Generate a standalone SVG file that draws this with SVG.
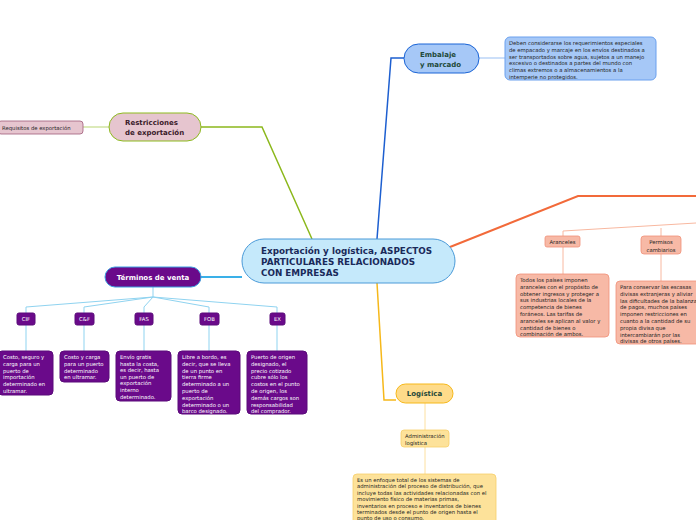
<svg xmlns="http://www.w3.org/2000/svg" width="696" height="520" viewBox="0 0 696 520">
<style>
text{font-family:"DejaVu Sans","Verdana",sans-serif}
.sm{font-size:5.3px;fill:#222}
.wt{font-size:5.3px;fill:#fff}
.b{font-weight:bold}
.c{fill:none}
</style>
<rect width="696" height="520" fill="#fff"/>
<g id="connectors" fill="none">
  <polyline points="377,239 391,58 404,58" stroke="#1d5fd0" stroke-width="1.5"/>
  <line x1="479" y1="58" x2="505" y2="58" stroke="#a9c9f5" stroke-width="1.2"/>
  <polyline points="312,239 262,127 201,127" stroke="#8cb81c" stroke-width="1.5"/>
  <line x1="83" y1="127" x2="109" y2="127" stroke="#c5dc8a" stroke-width="1.2"/>
  <line x1="242" y1="277" x2="201" y2="277" stroke="#3ab0e8" stroke-width="2"/>
  <g stroke="#8fd3f0" stroke-width="1">
    <line x1="153" y1="287" x2="153" y2="297"/>
    <polyline points="153,297 26,307 26,313"/>
    <polyline points="153,297 84,307 84,313"/>
    <polyline points="153,297 144,307 144,313"/>
    <polyline points="153,297 209,307 209,313"/>
    <polyline points="153,297 277,307 277,313"/>
    <line x1="26" y1="325" x2="26" y2="351"/>
    <line x1="84" y1="325" x2="84" y2="351"/>
    <line x1="144" y1="325" x2="144" y2="351"/>
    <line x1="209" y1="325" x2="209" y2="351"/>
    <line x1="277" y1="325" x2="277" y2="351"/>
  </g>
  <polyline points="450,247 578,196 696,196" stroke="#f26a3a" stroke-width="2"/>
  <g stroke="#f8b8a0" stroke-width="1">
    <polyline points="696,223 563,231 563,236"/>
    <polyline points="661,228 661,236"/>
    <line x1="563" y1="247" x2="563" y2="274"/>
    <line x1="661" y1="254" x2="661" y2="281"/>
  </g>
  <polyline points="377,283 384,400 396,400" stroke="#f6b81a" stroke-width="1.5"/>
  <g stroke="#fde0a0" stroke-width="1">
    <line x1="425" y1="403" x2="425" y2="430"/>
    <line x1="425" y1="447" x2="425" y2="474"/>
  </g>
</g>

<g id="center">
  <rect x="242" y="239" width="213" height="44" rx="22" fill="#c5e9fb" stroke="#4a9ad8" stroke-width="1"/>
  <text class="b" font-size="8.8" fill="#1a2a5a"><tspan x="261" y="254">Exportación y logística, ASPECTOS</tspan><tspan x="261" y="265">PARTICULARES RELACIONADOS</tspan><tspan x="261" y="276">CON EMPRESAS</tspan></text>
</g>

<g id="embalaje">
  <rect x="404" y="44" width="75" height="29" rx="14.5" fill="#a6c8f7" stroke="#1a64d6" stroke-width="1"/>
  <text class="b" font-size="7" fill="#1e4a3a"><tspan x="420" y="57">Embalaje</tspan><tspan x="420" y="67">y marcado</tspan></text>
</g>
<g id="embalaje-detail">
  <rect x="505" y="37" width="151" height="43" rx="5" fill="#a6c8f7" stroke="#6aa0ee" stroke-width="1"/>
  <text class="sm"><tspan x="509" y="45">Deben considerarse los requerimientos especiales</tspan><tspan x="509" y="51.8">de empacado y marcaje en los envíos destinados a</tspan><tspan x="509" y="58.6">ser transportados sobre agua, sujetos a un manejo</tspan><tspan x="509" y="65.4">excesivo o destinados a partes del mundo con</tspan><tspan x="509" y="72.2">climas extremos o a almacenamientos a la</tspan><tspan x="509" y="79">intemperie no protegidos.</tspan></text>
</g>

<g id="restricciones">
  <rect x="109" y="113" width="92" height="28" rx="14" fill="#e6c5cf" stroke="#8dbb1e" stroke-width="1"/>
  <text class="b" font-size="7" fill="#3a1a2a"><tspan x="125" y="125">Restricciones</tspan><tspan x="125" y="135">de exportación</tspan></text>
</g>
<g id="requisitos">
  <rect x="-2" y="121" width="85" height="13" rx="3" fill="#e6c5cf" stroke="#a05a78" stroke-width="0.8"/>
  <text class="sm" x="2" y="129.8">Requisitos de exportación</text>
</g>

<g id="terminos">
  <rect x="105" y="267" width="96" height="20" rx="10" fill="#6a0a8a" stroke="#3aa0e0" stroke-width="1"/>
  <text class="b" font-size="7" fill="#fff" x="153" y="280" text-anchor="middle">Términos de venta</text>
</g>
<g id="cif">
  <rect x="17" y="313" width="18" height="12" rx="2" fill="#6a0a8a" stroke="#5a0a7a"/>
  <text class="wt" x="26" y="321" text-anchor="middle">CIF</text>
</g>
<g id="cnf">
  <rect x="75" y="313" width="19" height="12" rx="2" fill="#6a0a8a" stroke="#5a0a7a"/>
  <text class="wt" x="84.5" y="321" text-anchor="middle">C&amp;F</text>
</g>
<g id="fas">
  <rect x="135" y="313" width="18" height="12" rx="2" fill="#6a0a8a" stroke="#5a0a7a"/>
  <text class="wt" x="144" y="321" text-anchor="middle">FAS</text>
</g>
<g id="fob">
  <rect x="200" y="313" width="19" height="12" rx="2" fill="#6a0a8a" stroke="#5a0a7a"/>
  <text class="wt" x="209.5" y="321" text-anchor="middle">FOB</text>
</g>
<g id="ex">
  <rect x="270" y="313" width="15" height="12" rx="2" fill="#6a0a8a" stroke="#5a0a7a"/>
  <text class="wt" x="277.5" y="321" text-anchor="middle">EX</text>
</g>
<g id="cif-detail">
  <rect x="-2" y="351" width="55" height="44" rx="4" fill="#6a0a8a" stroke="#5a0a7a"/>
  <text class="wt"><tspan x="3" y="359">Costo, seguro y</tspan><tspan x="3" y="365.8">carga para un</tspan><tspan x="3" y="372.6">puerto de</tspan><tspan x="3" y="379.4">importación</tspan><tspan x="3" y="386.2">determinado en</tspan><tspan x="3" y="393">ultramar.</tspan></text>
</g>
<g id="cnf-detail">
  <rect x="60" y="351" width="49" height="31" rx="4" fill="#6a0a8a" stroke="#5a0a7a"/>
  <text class="wt"><tspan x="64" y="359">Costo y carga</tspan><tspan x="64" y="365.8">para un puerto</tspan><tspan x="64" y="372.6">determinado</tspan><tspan x="64" y="379.4">en ultramar.</tspan></text>
</g>
<g id="fas-detail">
  <rect x="116" y="351" width="55" height="50" rx="4" fill="#6a0a8a" stroke="#5a0a7a"/>
  <text class="wt"><tspan x="120" y="359">Envío gratis</tspan><tspan x="120" y="365.6">hasta la costa,</tspan><tspan x="120" y="372.2">es decir, hasta</tspan><tspan x="120" y="378.8">un puerto de</tspan><tspan x="120" y="385.4">exportación</tspan><tspan x="120" y="392">interno</tspan><tspan x="120" y="398.6">determinado.</tspan></text>
</g>
<g id="fob-detail">
  <rect x="178" y="351" width="62" height="63" rx="4" fill="#6a0a8a" stroke="#5a0a7a"/>
  <text class="wt"><tspan x="182" y="359">Libre a bordo, es</tspan><tspan x="182" y="365.8">decir, que se lleva</tspan><tspan x="182" y="372.6">de un punto en</tspan><tspan x="182" y="379.4">tierra firme</tspan><tspan x="182" y="386.2">determinado a un</tspan><tspan x="182" y="393">puerto de</tspan><tspan x="182" y="399.8">exportación</tspan><tspan x="182" y="406.6">determinado o un</tspan><tspan x="182" y="413.4">barco designado.</tspan></text>
</g>
<g id="ex-detail">
  <rect x="247" y="351" width="60" height="63" rx="4" fill="#6a0a8a" stroke="#5a0a7a"/>
  <text class="wt"><tspan x="251" y="359">Puerto de origen</tspan><tspan x="251" y="365.8">designado, el</tspan><tspan x="251" y="372.6">precio cotizado</tspan><tspan x="251" y="379.4">cubre sólo los</tspan><tspan x="251" y="386.2">costos en el punto</tspan><tspan x="251" y="393">de origen, los</tspan><tspan x="251" y="399.8">demás cargos son</tspan><tspan x="251" y="406.6">responsabilidad</tspan><tspan x="251" y="413.4">del comprador.</tspan></text>
</g>

<g id="aranceles">
  <rect x="545" y="236" width="35" height="11" rx="2" fill="#f7b9a6" stroke="#f09078" stroke-width="0.8"/>
  <text class="sm" x="562.5" y="243.6" text-anchor="middle">Aranceles</text>
</g>
<g id="permisos">
  <rect x="641" y="236" width="40" height="18" rx="3" fill="#f7b9a6" stroke="#f09078" stroke-width="0.8"/>
  <text class="sm" text-anchor="middle"><tspan x="661" y="244">Permisos</tspan><tspan x="661" y="251.5">cambiarios</tspan></text>
</g>
<g id="aranceles-detail">
  <rect x="516" y="274" width="93" height="63" rx="4" fill="#f7b9a6" stroke="#f09078" stroke-width="0.8"/>
  <text class="sm"><tspan x="520" y="282">Todos los países imponen</tspan><tspan x="520" y="288.8">aranceles con el propósito de</tspan><tspan x="520" y="295.6">obtener ingresos y proteger a</tspan><tspan x="520" y="302.4">sus industrias locales de la</tspan><tspan x="520" y="309.2">competencia de bienes</tspan><tspan x="520" y="316">foráneos. Las tarifas de</tspan><tspan x="520" y="322.8">aranceles se aplican al valor y</tspan><tspan x="520" y="329.6">cantidad de bienes o</tspan><tspan x="520" y="336.4">combinación de ambos.</tspan></text>
</g>
<g id="permisos-detail">
  <rect x="616" y="281" width="90" height="63" rx="4" fill="#f7b9a6" stroke="#f09078" stroke-width="0.8"/>
  <text class="sm"><tspan x="620" y="289">Para conservar las escasas</tspan><tspan x="620" y="295.8">divisas extranjeras y aliviar</tspan><tspan x="620" y="302.6">las dificultades de la balanza</tspan><tspan x="620" y="309.4">de pagos, muchos países</tspan><tspan x="620" y="316.2">imponen restricciones en</tspan><tspan x="620" y="323">cuanto a la cantidad de su</tspan><tspan x="620" y="329.8">propia divisa que</tspan><tspan x="620" y="336.6">intercambiarán por las</tspan><tspan x="620" y="343.4">divisas de otros países.</tspan></text>
</g>

<g id="logistica">
  <rect x="396" y="384" width="57" height="19" rx="9.5" fill="#fedb8a" stroke="#f6b81a" stroke-width="1"/>
  <text class="b" font-size="7" fill="#1e4a3a" x="424.5" y="396" text-anchor="middle">Logística</text>
</g>
<g id="admin-logistica">
  <rect x="401" y="430" width="48" height="17" rx="3" fill="#fde29a" stroke="#f6cf6a" stroke-width="0.8"/>
  <text class="sm"><tspan x="405" y="437.5">Administración</tspan><tspan x="405" y="444.5">logística</tspan></text>
</g>
<g id="logistica-detail">
  <rect x="353" y="474" width="143" height="52" rx="4" fill="#fde29a" stroke="#f6cf6a" stroke-width="0.8"/>
  <text class="sm"><tspan x="357" y="481.5">Es un enfoque total de los sistemas de</tspan><tspan x="357" y="488">administración del proceso de distribución, que</tspan><tspan x="357" y="494.5">incluye todas las actividades relacionadas con el</tspan><tspan x="357" y="501">movimiento físico de materias primas,</tspan><tspan x="357" y="507.5">inventarios en proceso e inventarios de bienes</tspan><tspan x="357" y="514">terminados desde el punto de origen hasta el</tspan><tspan x="357" y="519.5">punto de uso o consumo.</tspan></text>
</g>
</svg>
